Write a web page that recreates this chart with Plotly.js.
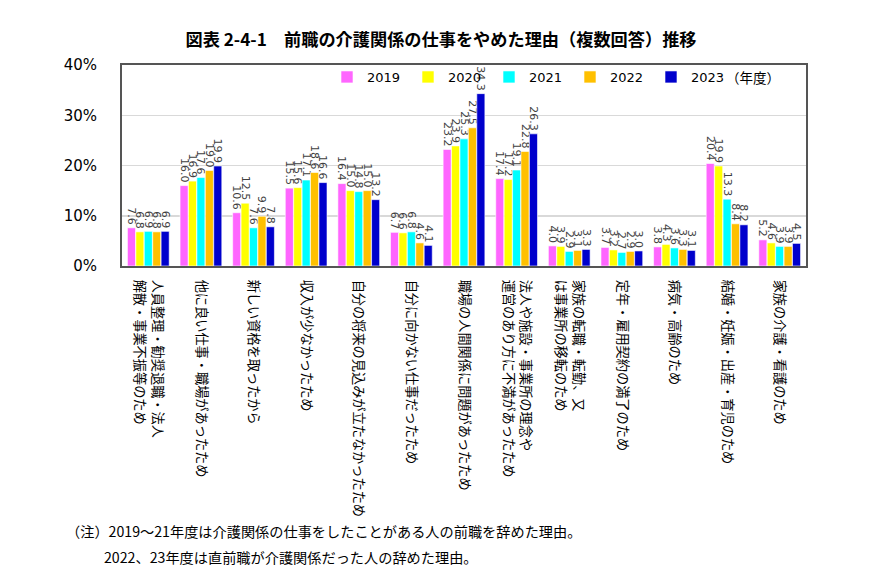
<!DOCTYPE html>
<html><head><meta charset="utf-8">
<script src="https://cdn.plot.ly/plotly-3.0.1.min.js"></script>
<style>html,body{margin:0;padding:0;background:#fff;}</style>
</head><body><div id="chart" style="width:882px;height:586px;"></div>
<script>
const categories = [
  "人員整理・勧奨退職・法人<br>解散・事業不振等のため",
  "他に良い仕事・職場があったため",
  "新しい資格を取ったから",
  "収入が少なかったため",
  "自分の将来の見込みが立たなかったため",
  "自分に向かない仕事だったため",
  "職場の人間関係に問題があったため",
  "法人や施設・事業所の理念や<br>運営のあり方に不満があったため",
  "家族の転職・転勤、又<br>は事業所の移転のため",
  "定年・雇用契約の満了のため",
  "病気・高齢のため",
  "結婚・妊娠・出産・育児のため",
  "家族の介護・看護のため"
];
const years = ["2019", "2020", "2021", "2022", "2023"];
const v2019 = [7.6, 16.0, 10.6, 15.5, 16.4, 6.7, 23.2, 17.4, 4.0, 3.7, 3.8, 20.4, 5.2];
const v2020 = [6.8, 16.9, 12.5, 15.6, 15.0, 6.6, 23.9, 17.2, 3.9, 3.2, 4.3, 19.9, 4.6];
const v2021 = [6.9, 17.6, 7.6, 17.1, 14.8, 6.8, 25.3, 19.1, 2.9, 2.7, 3.6, 13.3, 3.9];
const v2022 = [6.8, 19.0, 9.9, 18.6, 15.0, 4.6, 27.5, 22.8, 3.1, 2.9, 3.3, 8.4, 3.9];
const v2023 = [6.9, 19.9, 7.8, 16.6, 13.2, 4.1, 34.3, 26.3, 3.3, 3.0, 3.1, 8.2, 4.5];
const yTickVals = [0, 10, 20, 30, 40];
const yTickText = ["0%", "10%", "20%", "30%", "40%"];

const series = [v2019, v2020, v2021, v2022, v2023];
const colors = ["#FF66FF", "#FFFF00", "#00FFFF", "#FFC000", "#0000CC"];
const cjk = '"Noto Sans CJK JP", "DejaVu Sans", sans-serif';
const latin = '"DejaVu Sans", "Noto Sans CJK JP", sans-serif';

const traces = series.map((vals, i) => ({
  type: "bar",
  name: years[i],
  x: categories,
  y: vals,
  marker: { color: colors[i], line: { color: "#ffffff", width: 0.6 } },
  text: vals.map(v => v.toFixed(1)),
  textposition: "outside",
  textangle: 90,
  constraintext: "none",
  cliponaxis: false,
  textfont: { family: latin, size: 11, color: "#404040" },
  hoverinfo: "skip"
}));

// plot area in pixels: x 122..806, y 65..266
const px = x => (x - 122) / 684;
const py = y => (266 - y) / 201;

const layout = {
  width: 882, height: 586,
  margin: { l: 122, r: 76, t: 65, b: 320, autoexpand: false },
  paper_bgcolor: "#ffffff", plot_bgcolor: "#ffffff",
  barmode: "group", bargap: 0.2, bargroupgap: 0.04,
  title: {
    text: "<b>図表 2-4-1　前職の介護関係の仕事をやめた理由（複数回答）推移</b>",
    font: { family: cjk, size: 17.2, color: "#000" },
    x: 0.5, xanchor: "center", xref: "container", y: 1 - 40 / 586, yanchor: "middle", yref: "container"
  },
  showlegend: true,
  legend: {
    orientation: "h", x: px(327), xanchor: "left", y: py(77), yanchor: "middle",
    xref: "paper", yref: "paper",
    font: { family: latin, size: 13, color: "#000" },
    bgcolor: "rgba(255,255,255,0)", entrywidth: 36, entrywidthmode: "pixels",
    itemwidth: 30, traceorder: "normal"
  },
  xaxis: {
    type: "category", tickangle: 90, showgrid: false,
    showline: true, mirror: true, linecolor: "#555", linewidth: 2,
    ticks: "", tickfont: { family: cjk, size: 13.2, color: "#000" },
    ticklabelstandoff: 9, fixedrange: true, automargin: false
  },
  yaxis: {
    range: [0, 40], tickvals: yTickVals, ticktext: yTickText,
    showgrid: true, gridcolor: "#d9d9d9", gridwidth: 1.5,
    showline: true, mirror: true, linecolor: "#555", linewidth: 2,
    ticks: "", ticklabelstandoff: 20, zeroline: false,
    tickfont: { family: latin, size: 15, color: "#000" }, fixedrange: true, automargin: false
  },
  annotations: [
    { text: "（年度）", xref: "paper", yref: "paper", x: px(724), y: py(77), xanchor: "left", yanchor: "middle",
      showarrow: false, font: { family: cjk, size: 13.5, color: "#000" } },
    { text: "（注）2019～21年度は介護関係の仕事をしたことがある人の前職を辞めた理由。", xref: "paper", yref: "paper",
      x: px(64), y: py(531), xanchor: "left", yanchor: "middle", showarrow: false,
      font: { family: cjk, size: 14.2, color: "#000" } },
    { text: "2022、23年度は直前職が介護関係だった人の辞めた理由。", xref: "paper", yref: "paper",
      x: px(102), y: py(557), xanchor: "left", yanchor: "middle", showarrow: false,
      font: { family: cjk, size: 14.2, color: "#000" } }
  ]
};

Plotly.newPlot("chart", traces, layout, { displayModeBar: false, staticPlot: true });
</script></body></html>
